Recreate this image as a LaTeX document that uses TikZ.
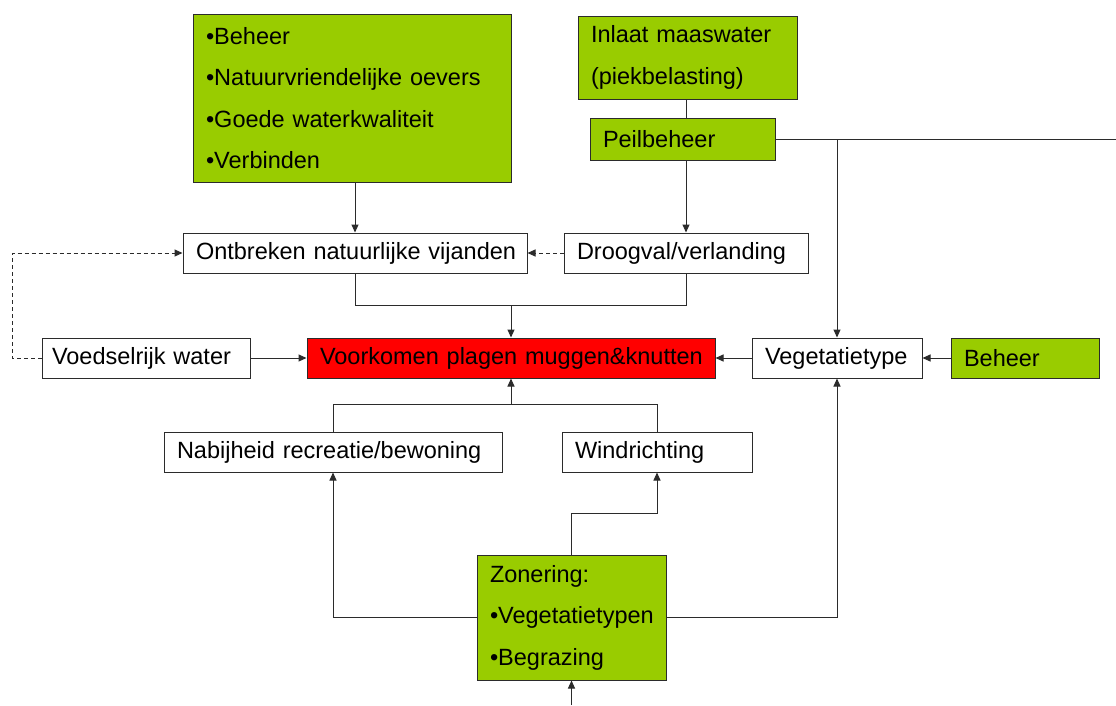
\documentclass[tikz,border=0pt]{standalone}
\usepackage{fontspec}
\setmainfont{Liberation Sans}
\usetikzlibrary{arrows.meta}
\definecolor{lgreen}{HTML}{99CC00}
\definecolor{lred}{HTML}{FF0000}
\definecolor{lineg}{HTML}{2B2B2B}
\begin{document}
\begin{tikzpicture}[x=1pt,y=-1pt,
  base/.style={draw=lineg, line width=1pt, inner xsep=13pt, inner ysep=0pt,
    align=left, font=\fontsize{23.5}{41.5}\selectfont, anchor=center},
  wbox/.style={base, fill=white},
  gbox/.style={base, fill=lgreen},
  rbox/.style={base, fill=lred},
  conn/.style={draw=lineg, line width=1pt},
  arr/.style={conn, -{Triangle[length=8pt,width=7pt]}},
  darr/.style={arr, dashed, dash pattern=on 4pt off 3pt}]
\useasboundingbox[fill=white] (0,0) rectangle (1116,705);

\node[gbox, text width=292pt, minimum height=168pt] (b1) at (352,98)
  {\mbox{•Beheer}\\\mbox{•Natuurvriendelijke oevers}\\\mbox{•Goede waterkwaliteit}\\\mbox{•Verbinden}};
\node[gbox, text width=193pt, minimum height=83pt] (inlaat) at (687.5,57.5)
  {\mbox{Inlaat maaswater}\\\mbox{(piekbelasting)}};
\node[gbox, text width=159pt, minimum height=42pt] (peil) at (682.5,139) {\mbox{Peilbeheer}};
\node[wbox, text width=318pt, minimum height=40pt] (ontb) at (355,253) {\mbox{Ontbreken natuurlijke vijanden}};
\node[wbox, text width=218pt, minimum height=40pt] (droog) at (686,253) {\mbox{Droogval/verlanding}};
\node[wbox, minimum height=40pt, inner xsep=10pt, text width=188pt] (voed) at (146,358) {\mbox{Voedselrijk water}};
\node[rbox, text width=382pt, minimum height=40pt] (voork) at (511,358) {\mbox{Voorkomen plagen muggen\&knutten}};
\node[wbox, text width=144pt, minimum height=40pt] (veget) at (837,358) {\mbox{Vegetatietype}};
\node[gbox, text width=122pt, minimum height=40pt] (beheer) at (1025,358) {\mbox{Beheer}};
\node[wbox, text width=312pt, minimum height=40pt] (nabij) at (333,452) {\mbox{Nabijheid recreatie/bewoning}};
\node[wbox, text width=164pt, minimum height=40pt] (wind) at (657,452) {\mbox{Windrichting}};
\node[gbox, text width=163pt, minimum height=125pt] (zon) at (571.5,617.5)
  {\mbox{Zonering:}\\\mbox{•Vegetatietypen}\\\mbox{•Begrazing}};

\coordinate (offR) at (1116,139);
\coordinate (dashL) at (12,0);
\coordinate (topJ) at (0,305);
\coordinate (botJ) at (0,404);
\coordinate (zonJ) at (0,513);
\coordinate (offB) at (571.5,705);

% top
\draw[arr] (b1.south -| ontb.north) -- (ontb.north);
\draw[conn] (inlaat.south -| droog.north) -- (peil.north -| droog.north);
\draw[arr] (peil.south -| droog.north) -- (droog.north);
\draw[conn] (peil.east) -- (offR);
\draw[arr] (peil.east -| veget.north) -- (veget.north);
\draw[darr] (droog.west) -- (ontb.east);
\draw[darr] (voed.west) -- (voed.west -| dashL) -- (ontb.west -| dashL) -- (ontb.west);
\draw[conn] (ontb.south) -- (ontb.south |- topJ) -- (droog.south |- topJ) -- (droog.south);
\draw[arr] (voork.north |- topJ) -- (voork.north);

% middle row
\draw[arr] (voed.east) -- (voork.west);
\draw[arr] (veget.west) -- (voork.east);
\draw[arr] (beheer.west) -- (veget.east);

% bottom
\draw[conn] (nabij.north) -- (nabij.north |- botJ) -- (wind.north |- botJ) -- (wind.north);
\draw[arr] (voork.south |- botJ) -- (voork.south);
\draw[arr] (zon.west) -- (zon.west -| nabij.south) -- (nabij.south);
\draw[arr] (zon.east) -- (zon.east -| veget.south) -- (veget.south);
\draw[arr] (zon.north) -- (zon.north |- zonJ) -- (wind.south |- zonJ) -- (wind.south);
\draw[arr] (offB) -- (zon.south);
\end{tikzpicture}
\end{document}
